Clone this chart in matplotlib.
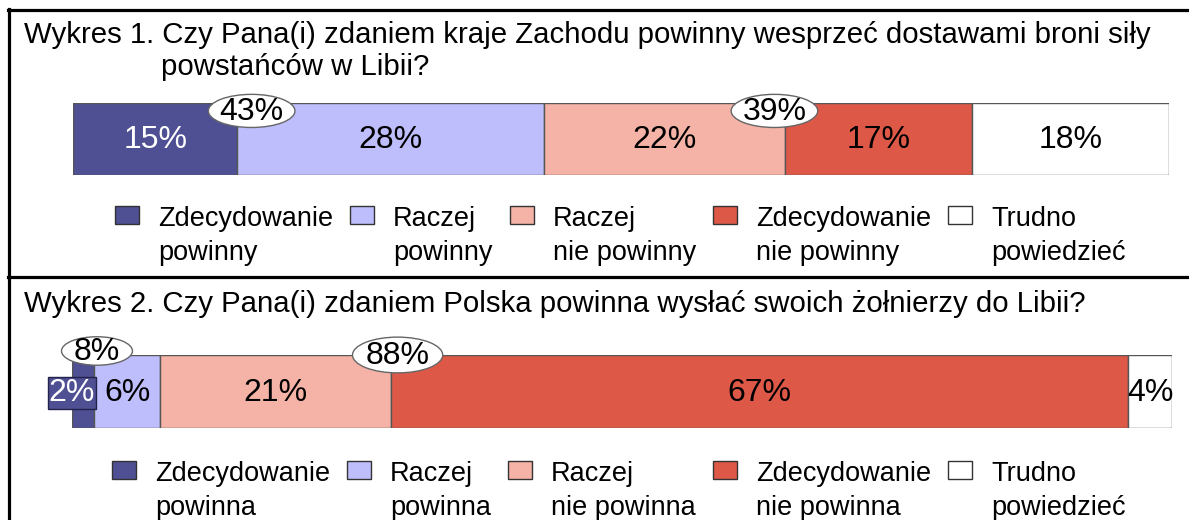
import matplotlib
matplotlib.use("Agg")
import matplotlib.pyplot as plt
from matplotlib.patches import Patch, Ellipse
from matplotlib.lines import Line2D
import numpy as np

plt.rcParams['font.family'] = ['Liberation Sans', 'DejaVu Sans']

# ---- data ----
title1_line1 = "Wykres 1. Czy Pana(i) zdaniem kraje Zachodu powinny wesprzeć dostawami broni siły"
title1_line2 = "powstańców w Libii?"
title2 = "Wykres 2. Czy Pana(i) zdaniem Polska powinna wysłać swoich żołnierzy do Libii?"

values1 = [15, 28, 22, 17, 18]
values2 = [2, 6, 21, 67, 4]
labels1 = ["Zdecydowanie\npowinny", "Raczej\npowinny", "Raczej\nnie powinny",
           "Zdecydowanie\nnie powinny", "Trudno\npowiedzieć"]
labels2 = ["Zdecydowanie\npowinna", "Raczej\npowinna", "Raczej\nnie powinna",
           "Zdecydowanie\nnie powinna", "Trudno\npowiedzieć"]
sums1 = ["43%", "39%"]
sums2 = ["8%", "88%"]

colors = ["#4F4F94", "#BEBEFC", "#F4B3A6", "#DE5848", "#FFFFFF"]
text_colors = ["white", "black", "black", "black", "black"]

# ---- layout ----
W, H = 1189, 520
def fx(px): return px / W
def fy(py): return 1 - py / H

fig = plt.figure(figsize=(W / 100, H / 100), dpi=100)

ax1 = fig.add_axes([fx(73), fy(175), 1096 / W, 72 / H])
ax2 = fig.add_axes([fx(72), fy(428), 1100 / W, 73 / H])

BAR_FS = 23
LEG_FS = 19.5
TITLE_FS = 21.15
EDGE = "#555555"

def draw_bar(ax, values):
    lefts = np.concatenate([[0], np.cumsum(values)[:-1]])
    for v, l, c in zip(values, lefts, colors):
        ax.barh(0, v, left=l, height=1, color=c, edgecolor=EDGE, linewidth=1, zorder=2)
    ax.set_xlim(0, 100)
    ax.set_ylim(-0.5, 0.5)
    ax.axis("off")
    return lefts

lefts1 = draw_bar(ax1, values1)
lefts2 = draw_bar(ax2, values2)

for v, l, tc in zip(values1, lefts1, text_colors):
    ax1.text(l + v / 2, -0.02, f"{v}%", ha="center", va="center", fontsize=BAR_FS,
             color=tc, zorder=5)

for i, (v, l, tc) in enumerate(zip(values2, lefts2, text_colors)):
    if i == 0:
        ax2.text(l, -0.02, f"{v}%", ha="center", va="center", fontsize=BAR_FS,
                 color="white", zorder=6, clip_on=False,
                 bbox=dict(boxstyle="square,pad=0.03", fc=colors[0], ec="#22224A", lw=1))
    else:
        ax2.text(l + v / 2, -0.02, f"{v}%", ha="center", va="center", fontsize=BAR_FS,
                 color=tc, zorder=5, clip_on=False)

# ellipse total labels (x center, y center, width, height in data units)
ell1 = [(16.3, 0.39, 7.9, 0.46), (64.0, 0.39, 7.9, 0.46)]
ell2 = [(2.27, 0.555, 6.45, 0.39), (29.6, 0.50, 8.2, 0.49)]

def draw_ellipses(ax, labels, ells):
    for lab, (x, y, w, h) in zip(labels, ells):
        e = Ellipse((x, y), w, h, fc="white", ec="#666666", lw=1, zorder=7, clip_on=False)
        ax.add_patch(e)
        ax.text(x, y - 0.02, lab, ha="center", va="center", fontsize=BAR_FS,
                color="black", zorder=8, clip_on=False)

draw_ellipses(ax1, sums1, ell1)
draw_ellipses(ax2, sums2, ell2)

# titles
fig.text(fx(24), fy(43), title1_line1, fontsize=TITLE_FS, va="baseline", ha="left")
fig.text(fx(161), fy(75), title1_line2, fontsize=TITLE_FS, va="baseline", ha="left")
fig.text(fx(24), fy(312), title2, fontsize=TITLE_FS, va="baseline", ha="left")

# legends
def make_legend(ax, labels, x, y):
    handles = [Patch(fc=c, ec="#333333", lw=1) for c in colors]
    em = LEG_FS * 100 / 72
    leg = ax.legend(handles, labels, loc="upper left",
                    bbox_to_anchor=(fx(x), fy(y)), bbox_transform=fig.transFigure,
                    ncol=5, frameon=False, fontsize=LEG_FS,
                    handlelength=24 / em, handleheight=17 / em,
                    handletextpad=19 / em, columnspacing=17 / em,
                    borderpad=0, borderaxespad=0)
    for t in leg.get_texts():
        t.set_linespacing(1.38)
    for col in leg._legend_handle_box.get_children():
        for hp in col.get_children():
            hp.align = "top"
    return leg

make_legend(ax1, labels1, 115, 206)
make_legend(ax2, labels2, 112, 461)

# frame lines
lw = 2.3
fig.add_artist(Line2D([fx(9), fx(9)], [fy(9), 0], transform=fig.transFigure, color="black", lw=lw))
fig.add_artist(Line2D([fx(8), 1], [fy(10), fy(10)], transform=fig.transFigure, color="black", lw=lw))
fig.add_artist(Line2D([fx(8), 1], [fy(277), fy(277)], transform=fig.transFigure, color="black", lw=lw))

fig.savefig("out.png", dpi=100)
